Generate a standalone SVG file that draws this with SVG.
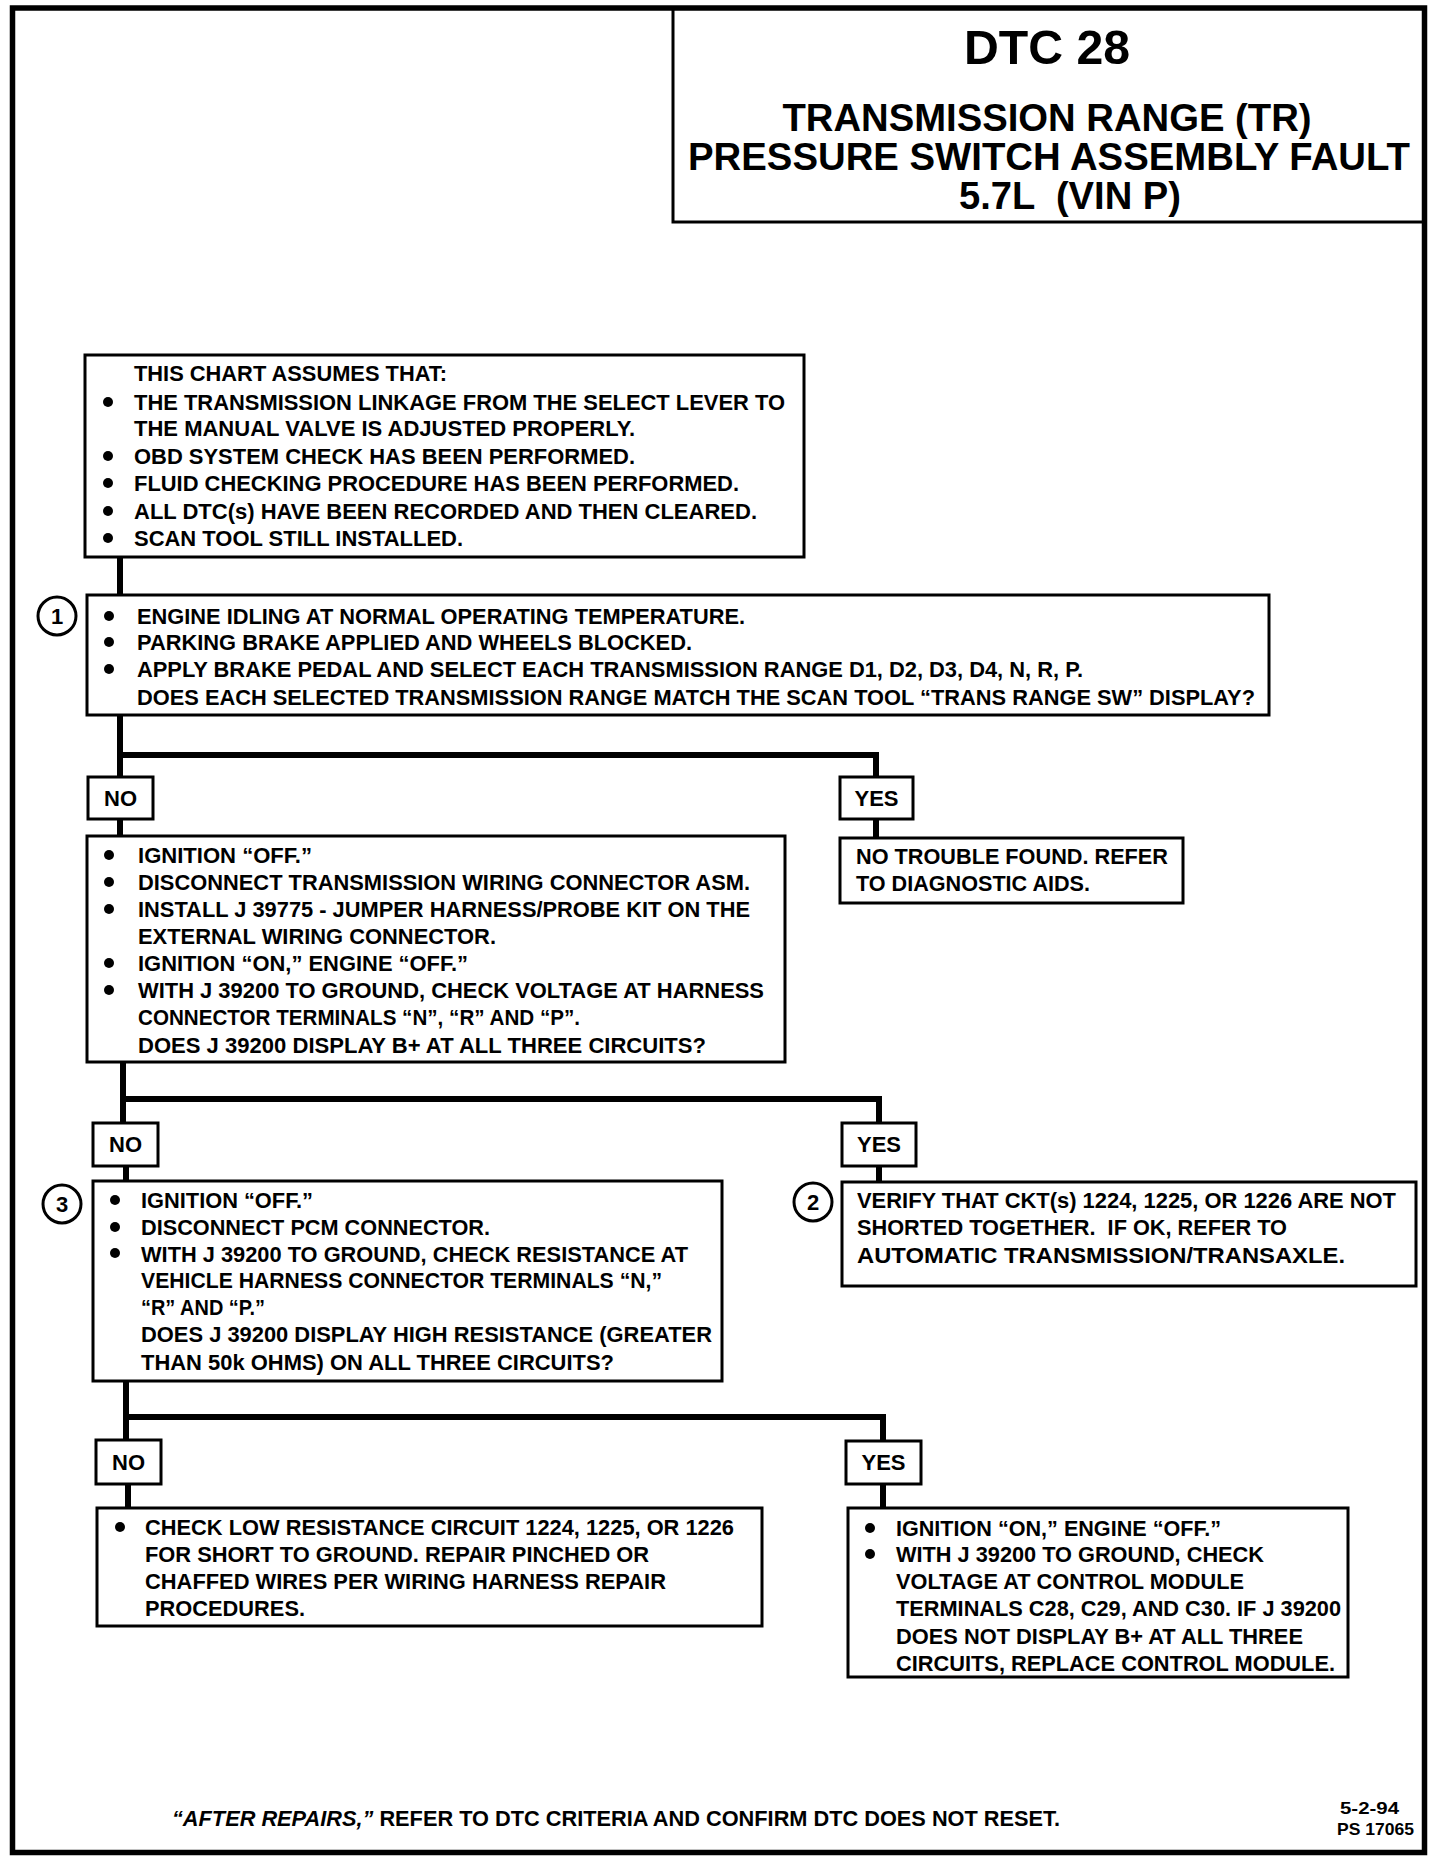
<svg xmlns="http://www.w3.org/2000/svg" width="1440" height="1862" viewBox="0 0 1440 1862">
<style>
.box{fill:#fff;stroke:#000;stroke-width:3}
.lbl{fill:#fff;stroke:#000;stroke-width:3}
.t{font-family:"Liberation Sans",Arial,sans-serif;font-weight:bold;font-size:22px;fill:#000}
.c{text-anchor:middle}
.sm{font-size:17px}
.ttl{font-family:"Liberation Sans",Arial,sans-serif;font-weight:bold;fill:#000;text-anchor:middle}
.con{stroke:#000;stroke-width:6;fill:none;stroke-linecap:square}
.num{fill:#fff;stroke:#000;stroke-width:3}
</style>
<defs>
<circle id="b" r="5" fill="#000"/>
</defs>
<rect x="0" y="0" width="1440" height="1862" fill="#fff"/>
<rect x="12.5" y="8" width="1412" height="1844.5" fill="none" stroke="#000" stroke-width="5.5"/>

<g id="title">
<rect x="673" y="8" width="751.5" height="214" fill="none" stroke="#000" stroke-width="3"/>
<text class="ttl" x="1047" y="64" font-size="48" textLength="166" lengthAdjust="spacingAndGlyphs">DTC 28</text>
<text class="ttl" x="1047" y="131" font-size="38" textLength="529" lengthAdjust="spacingAndGlyphs">TRANSMISSION RANGE (TR)</text>
<text class="ttl" x="1049" y="170" font-size="38" textLength="722" lengthAdjust="spacingAndGlyphs">PRESSURE SWITCH ASSEMBLY FAULT</text>
<text class="ttl" x="1070" y="209" font-size="38" textLength="222" lengthAdjust="spacingAndGlyphs" xml:space="preserve">5.7L  (VIN P)</text>
</g>

<g id="connectors">
<path class="con" d="M120 557V595"/>
<path class="con" d="M120 715V777M120 755H876V777"/>
<path class="con" d="M120 819V836"/>
<path class="con" d="M876 819V838"/>
<path class="con" d="M123 1062V1123M123 1099H879V1123"/>
<path class="con" d="M126 1166V1181"/>
<path class="con" d="M879 1166V1182"/>
<path class="con" d="M126 1381V1440M126 1417H883V1441"/>
<path class="con" d="M128 1484V1508"/>
<path class="con" d="M883 1484V1508"/>
</g>

<g id="assumptions">
<rect class="box" x="85" y="355" width="719" height="202"/>
<text class="t" x="134" y="381" textLength="313" lengthAdjust="spacingAndGlyphs">THIS CHART ASSUMES THAT:</text>
<use href="#b" x="108" y="402"/>
<text class="t" x="134" y="410" textLength="651" lengthAdjust="spacingAndGlyphs">THE TRANSMISSION LINKAGE FROM THE SELECT LEVER TO</text>
<text class="t" x="134" y="436" textLength="501" lengthAdjust="spacingAndGlyphs">THE MANUAL VALVE IS ADJUSTED PROPERLY.</text>
<use href="#b" x="108" y="456"/>
<text class="t" x="134" y="464" textLength="501" lengthAdjust="spacingAndGlyphs">OBD SYSTEM CHECK HAS BEEN PERFORMED.</text>
<use href="#b" x="108" y="483"/>
<text class="t" x="134" y="491" textLength="605" lengthAdjust="spacingAndGlyphs">FLUID CHECKING PROCEDURE HAS BEEN PERFORMED.</text>
<use href="#b" x="108" y="511"/>
<text class="t" x="134" y="519" textLength="623" lengthAdjust="spacingAndGlyphs">ALL DTC(s) HAVE BEEN RECORDED AND THEN CLEARED.</text>
<use href="#b" x="108" y="538"/>
<text class="t" x="134" y="546" textLength="329" lengthAdjust="spacingAndGlyphs">SCAN TOOL STILL INSTALLED.</text>
</g>

<g id="step1">
<circle class="num" cx="57" cy="616" r="19"/>
<text class="t c" x="57" y="624">1</text>
<rect class="box" x="87" y="595" width="1182" height="120"/>
<use href="#b" x="109" y="616"/>
<text class="t" x="137" y="624" textLength="608" lengthAdjust="spacingAndGlyphs">ENGINE IDLING AT NORMAL OPERATING TEMPERATURE.</text>
<use href="#b" x="109" y="642"/>
<text class="t" x="137" y="650" textLength="555" lengthAdjust="spacingAndGlyphs">PARKING BRAKE APPLIED AND WHEELS BLOCKED.</text>
<use href="#b" x="109" y="669"/>
<text class="t" x="137" y="677" textLength="946" lengthAdjust="spacingAndGlyphs">APPLY BRAKE PEDAL AND SELECT EACH TRANSMISSION RANGE D1, D2, D3, D4, N, R, P.</text>
<text class="t" x="137" y="705" textLength="1118" lengthAdjust="spacingAndGlyphs">DOES EACH SELECTED TRANSMISSION RANGE MATCH THE SCAN TOOL “TRANS RANGE SW” DISPLAY?</text>
</g>

<g id="no1">
<rect class="lbl" x="88" y="777" width="65" height="42"/>
<text class="t c" x="120.5" y="806">NO</text>
</g>
<g id="yes1">
<rect class="lbl" x="840" y="777" width="73" height="42"/>
<text class="t c" x="876.5" y="806">YES</text>
</g>

<g id="step-harness">
<rect class="box" x="87" y="836" width="698" height="226"/>
<use href="#b" x="109" y="855"/>
<text class="t" x="138" y="863" textLength="174" lengthAdjust="spacingAndGlyphs">IGNITION “OFF.”</text>
<use href="#b" x="109" y="882"/>
<text class="t" x="138" y="890" textLength="612" lengthAdjust="spacingAndGlyphs">DISCONNECT TRANSMISSION WIRING CONNECTOR ASM.</text>
<use href="#b" x="109" y="909"/>
<text class="t" x="138" y="917" textLength="612" lengthAdjust="spacingAndGlyphs">INSTALL J 39775 - JUMPER HARNESS/PROBE KIT ON THE</text>
<text class="t" x="138" y="944" textLength="358" lengthAdjust="spacingAndGlyphs">EXTERNAL WIRING CONNECTOR.</text>
<use href="#b" x="109" y="963"/>
<text class="t" x="138" y="971" textLength="330" lengthAdjust="spacingAndGlyphs">IGNITION “ON,” ENGINE “OFF.”</text>
<use href="#b" x="109" y="990"/>
<text class="t" x="138" y="998" textLength="626" lengthAdjust="spacingAndGlyphs">WITH J 39200 TO GROUND, CHECK VOLTAGE AT HARNESS</text>
<text class="t" x="138" y="1025" textLength="442" lengthAdjust="spacingAndGlyphs">CONNECTOR TERMINALS “N”, “R” AND “P”.</text>
<text class="t" x="138" y="1053" textLength="568" lengthAdjust="spacingAndGlyphs">DOES J 39200 DISPLAY B+ AT ALL THREE CIRCUITS?</text>
</g>

<g id="no-trouble">
<rect class="box" x="840" y="838" width="343" height="65"/>
<text class="t" x="856" y="864" textLength="312" lengthAdjust="spacingAndGlyphs">NO TROUBLE FOUND. REFER</text>
<text class="t" x="856" y="891" textLength="234" lengthAdjust="spacingAndGlyphs">TO DIAGNOSTIC AIDS.</text>
</g>

<g id="no2">
<rect class="lbl" x="93" y="1123" width="65" height="43"/>
<text class="t c" x="125.5" y="1152">NO</text>
</g>
<g id="yes2">
<rect class="lbl" x="842" y="1123" width="74" height="43"/>
<text class="t c" x="879" y="1152">YES</text>
</g>

<g id="step3">
<circle class="num" cx="62" cy="1204" r="19"/>
<text class="t c" x="62" y="1212">3</text>
<rect class="box" x="93" y="1181" width="629" height="200"/>
<use href="#b" x="115" y="1200"/>
<text class="t" x="141" y="1208" textLength="172" lengthAdjust="spacingAndGlyphs">IGNITION “OFF.”</text>
<use href="#b" x="115" y="1227"/>
<text class="t" x="141" y="1235" textLength="349" lengthAdjust="spacingAndGlyphs">DISCONNECT PCM CONNECTOR.</text>
<use href="#b" x="115" y="1253"/>
<text class="t" x="141" y="1262" textLength="547" lengthAdjust="spacingAndGlyphs">WITH J 39200 TO GROUND, CHECK RESISTANCE AT</text>
<text class="t" x="141" y="1288" textLength="521" lengthAdjust="spacingAndGlyphs">VEHICLE HARNESS CONNECTOR TERMINALS “N,”</text>
<text class="t" x="141" y="1315" textLength="124" lengthAdjust="spacingAndGlyphs">“R” AND “P.”</text>
<text class="t" x="141" y="1342" textLength="571" lengthAdjust="spacingAndGlyphs">DOES J 39200 DISPLAY HIGH RESISTANCE (GREATER</text>
<text class="t" x="141" y="1370" textLength="473" lengthAdjust="spacingAndGlyphs">THAN 50k OHMS) ON ALL THREE CIRCUITS?</text>
</g>

<g id="step2">
<circle class="num" cx="813" cy="1202" r="19"/>
<text class="t c" x="813" y="1210">2</text>
<rect class="box" x="842" y="1182" width="574" height="104"/>
<text class="t" x="857" y="1208" textLength="539" lengthAdjust="spacingAndGlyphs">VERIFY THAT CKT(s) 1224, 1225, OR 1226 ARE NOT</text>
<text class="t" x="857" y="1235" textLength="430" lengthAdjust="spacingAndGlyphs" xml:space="preserve">SHORTED TOGETHER.  IF OK, REFER TO</text>
<text class="t" x="857" y="1263" textLength="488" lengthAdjust="spacingAndGlyphs">AUTOMATIC TRANSMISSION/TRANSAXLE.</text>
</g>

<g id="no3">
<rect class="lbl" x="96" y="1440" width="65" height="44"/>
<text class="t c" x="128.5" y="1470">NO</text>
</g>
<g id="yes3">
<rect class="lbl" x="846" y="1441" width="75" height="43"/>
<text class="t c" x="883.5" y="1470">YES</text>
</g>

<g id="short-ground">
<rect class="box" x="97" y="1508" width="665" height="118"/>
<use href="#b" x="120" y="1527"/>
<text class="t" x="145" y="1535" textLength="589" lengthAdjust="spacingAndGlyphs">CHECK LOW RESISTANCE CIRCUIT 1224, 1225, OR 1226</text>
<text class="t" x="145" y="1562" textLength="504" lengthAdjust="spacingAndGlyphs">FOR SHORT TO GROUND. REPAIR PINCHED OR</text>
<text class="t" x="145" y="1589" textLength="521" lengthAdjust="spacingAndGlyphs">CHAFFED WIRES PER WIRING HARNESS REPAIR</text>
<text class="t" x="145" y="1616" textLength="160" lengthAdjust="spacingAndGlyphs">PROCEDURES.</text>
</g>

<g id="control-module">
<rect class="box" x="848" y="1508" width="500" height="169"/>
<use href="#b" x="870" y="1528"/>
<text class="t" x="896" y="1536" textLength="325" lengthAdjust="spacingAndGlyphs">IGNITION “ON,” ENGINE “OFF.”</text>
<use href="#b" x="870" y="1554"/>
<text class="t" x="896" y="1562" textLength="368" lengthAdjust="spacingAndGlyphs">WITH J 39200 TO GROUND, CHECK</text>
<text class="t" x="896" y="1589" textLength="348" lengthAdjust="spacingAndGlyphs">VOLTAGE AT CONTROL MODULE</text>
<text class="t" x="896" y="1616" textLength="445" lengthAdjust="spacingAndGlyphs">TERMINALS C28, C29, AND C30. IF J 39200</text>
<text class="t" x="896" y="1644" textLength="407" lengthAdjust="spacingAndGlyphs">DOES NOT DISPLAY B+ AT ALL THREE</text>
<text class="t" x="896" y="1671" textLength="439" lengthAdjust="spacingAndGlyphs">CIRCUITS, REPLACE CONTROL MODULE.</text>
</g>

<g id="footer">
<text class="t" x="172" y="1826" textLength="888" lengthAdjust="spacingAndGlyphs"><tspan font-style="italic">“AFTER REPAIRS,”</tspan> REFER TO DTC CRITERIA  AND CONFIRM DTC DOES NOT RESET.</text>
<text class="t sm" x="1340" y="1814" textLength="59" lengthAdjust="spacingAndGlyphs">5-2-94</text>
<text class="t sm" x="1337" y="1835" textLength="77" lengthAdjust="spacingAndGlyphs">PS 17065</text>
</g>
</svg>
